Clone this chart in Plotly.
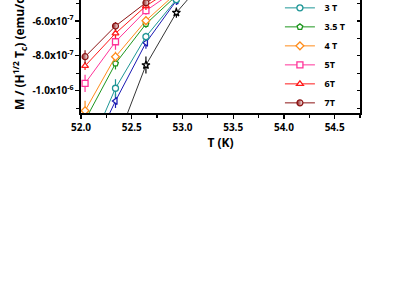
import plotly.graph_objects as go

# ---------------- data ----------------
temps = [52.04, 52.34, 52.64, 52.94, 53.24]

series_names = ["2 T", "2.5 T", "3 T", "3.5 T", "4 T", "5T", "6T", "7T"]
m_2T   = [-1.80e-6, -1.309e-6, -8.53e-7, -5.52e-7, -3.50e-7]
m_2p5T = [-1.426e-6, -1.059e-6, -7.25e-7, -4.83e-7, -3.30e-7]
m_3T   = [-1.389e-6, -9.86e-7, -6.90e-7, -4.77e-7, -3.20e-7]
m_3p5T = [-1.170e-6, -8.44e-7, -6.17e-7, -4.55e-7, -3.40e-7]
m_4T   = [-1.115e-6, -8.05e-7, -5.98e-7, -4.40e-7, -3.30e-7]
m_5T   = [-9.58e-7, -7.19e-7, -5.41e-7, -4.20e-7, -3.30e-7]
m_6T   = [-8.58e-7, -6.71e-7, -5.14e-7, -4.00e-7, -3.20e-7]
m_7T   = [-8.05e-7, -6.29e-7, -4.95e-7, -3.95e-7, -3.20e-7]

e_2T   = [5.0e-8, 5.0e-8, 4.9e-8, 2.9e-8, 2.5e-8]
e_2p5T = [4.0e-8, 4.0e-8, 3.4e-8, 2.5e-8, 2.5e-8]
e_3T   = [5.0e-8, 5.2e-8, 2.3e-8, 2.3e-8, 2.3e-8]
e_3p5T = [3.5e-8, 3.4e-8, 2.3e-8, 2.3e-8, 2.3e-8]
e_4T   = [5.7e-8, 2.9e-8, 2.3e-8, 2.3e-8, 2.3e-8]
e_5T   = [5.0e-8, 4.6e-8, 2.3e-8, 2.3e-8, 2.3e-8]
e_6T   = [2.3e-8, 2.9e-8, 2.3e-8, 2.3e-8, 2.3e-8]
e_7T   = [3.7e-8, 2.3e-8, 2.3e-8, 2.3e-8, 2.3e-8]

y_tick_vals = [-6e-7, -8e-7, -1e-6]
y_tick_text = ["-6.0x10<sup>-7</sup>", "-8.0x10<sup>-7</sup>", "-1.0x10<sup>-6</sup>"]

# ---------------- styles ----------------
values = [m_2T, m_2p5T, m_3T, m_3p5T, m_4T, m_5T, m_6T, m_7T]
errors = [e_2T, e_2p5T, e_3T, e_3p5T, e_4T, e_5T, e_6T, e_7T]
colors = ["#000000", "#1a1ab4", "#1e9696", "#1e961e", "#ff8c1a", "#ff3399", "#ff1a1a", "#8c1414"]
symbols = ["star", "triangle-left", "circle", "pentagon", "diamond", "square", "triangle-up", "circle"]

FONT = "Open Sans"

fig = go.Figure()
for name, ys, es, c, s in zip(series_names, values, errors, colors, symbols):
    if name == "7T":
        marker = dict(symbol=s, size=6, color=c,
                      gradient=dict(type="horizontal", color="white"),
                      line=dict(color=c, width=1.2))
    else:
        marker = dict(symbol=s, size=6, color="white",
                      line=dict(color=c, width=1.3))
    fig.add_trace(go.Scatter(
        x=temps, y=ys, name="\u00a0\u00a0" + name, mode="lines+markers",
        yaxis="y2" if name == "2 T" else "y",
        line=dict(color=c, width=1 if name != "2 T" else 0.8),
        marker=marker,
        error_y=dict(type="data", array=es, color=c, thickness=1.2, width=0),
    ))

yr = [-1.128e-6, -4.795e-7]

fig.update_layout(
    width=396, height=284,
    margin=dict(l=81, r=36, t=0, b=171, autoexpand=False),
    paper_bgcolor="white", plot_bgcolor="white",
    font=dict(family=FONT, color="black", size=10, weight="bold"),
    showlegend=True, hovermode=False,
    legend=dict(x=0.713, xanchor="left", y=1.395, yanchor="top",
                bgcolor="rgba(0,0,0,0)", borderwidth=0, maxheight=1000,
                font=dict(family=FONT, size=9, weight="bold"),
                itemwidth=30),
    xaxis=dict(range=[52.0, 54.75], showgrid=False, zeroline=False,
               showline=True, linecolor="black", linewidth=1.6,
               ticks="outside", ticklen=4, tickwidth=1.2, tickcolor="black",
               tickmode="linear", tick0=52.0, dtick=0.5, tickformat=".1f",
               minor=dict(dtick=0.25, ticks="outside", ticklen=3, tickwidth=1.2, tickcolor="black"),
               tickfont=dict(family=FONT, size=10, weight="bold"),
               title=dict(text="T (K)", font=dict(family=FONT, size=12, weight="bold"), standoff=4),
               mirror=False),
    yaxis=dict(range=yr, showgrid=False, zeroline=False,
               showline=True, linecolor="black", linewidth=1.6,
               ticks="outside", ticklen=4, tickwidth=1.2, tickcolor="black",
               tickmode="array", tickvals=y_tick_vals, ticktext=y_tick_text,
               minor=dict(tickmode="linear", tick0=-1e-6, dtick=1e-7, ticks="outside",
                          ticklen=3, tickwidth=1.2, tickcolor="black"),
               tickfont=dict(family=FONT, size=10, weight="bold"),
               mirror=False),
    yaxis2=dict(range=yr, overlaying="y", side="right", showgrid=False, zeroline=False,
                showline=True, linecolor="black", linewidth=1.6,
                ticks="inside", ticklen=3, tickwidth=1.2, tickcolor="black",
                tickmode="linear", tick0=-1e-6, dtick=1e-7, showticklabels=False),
)

fig.add_annotation(
    text="M / (H<sup>1/2</sup> T<sub>c</sub>) (emu/cm<sup>3</sup> Oe<sup>1/2</sup>)",
    textangle=-90, xref="paper", yref="paper",
    x=-(81 - 19) / 279, xanchor="center",
    y=(113 - 112) / 113, yanchor="bottom",
    showarrow=False, font=dict(family=FONT, size=12, weight="bold"),
)

fig.write_html("out.html", config={"displayModeBar": False, "staticPlot": True},
               post_script="document.body.style.margin='0';")
